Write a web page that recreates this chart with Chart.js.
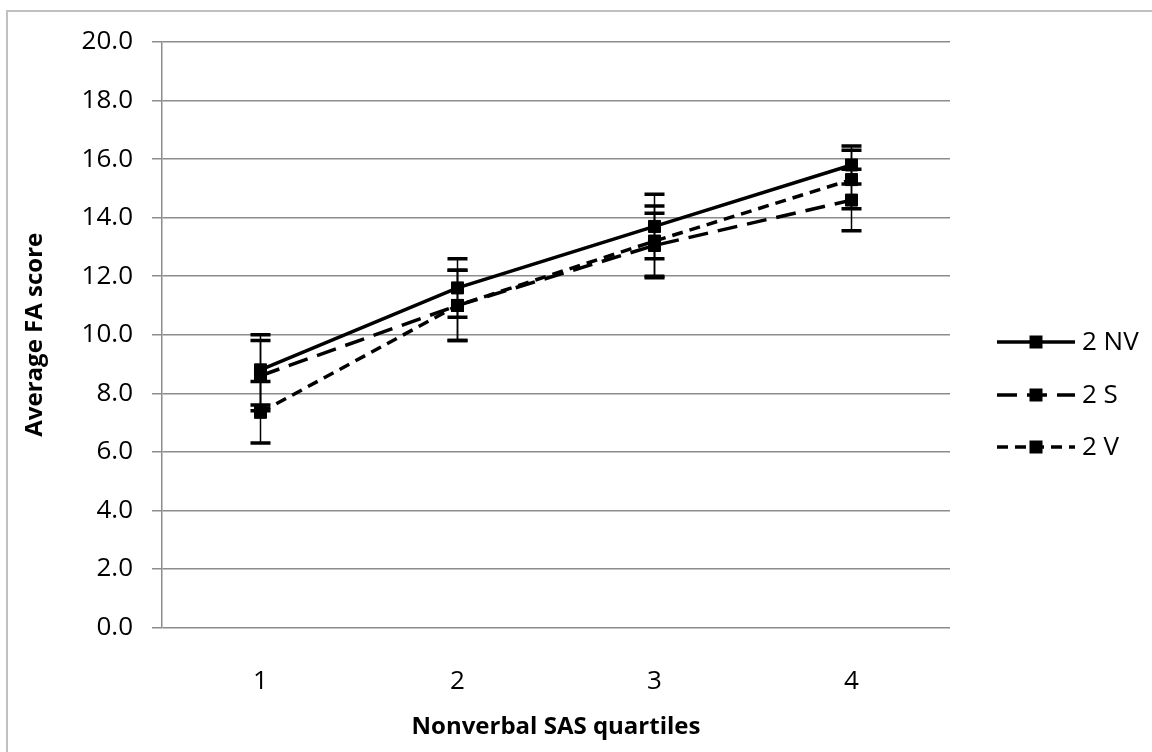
<!DOCTYPE html>
<html>
<head>
<meta charset="utf-8">
<script src="https://cdn.jsdelivr.net/npm/chart.js@4.4.1/dist/chart.umd.min.js"></script>
<style>
  html, body { margin: 0; padding: 0; background: #fff; }
  #wrap { width: 1152px; height: 752px; }
</style>
</head>
<body>
<div id="wrap"><canvas id="faChart" width="1152" height="752"></canvas></div>
<script>
// quartile categories and series
const quartiles = ['1', '2', '3', '4'];
const seriesNames = ['2 NV', '2 S', '2 V'];

// mean FA score per quartile, with symmetric error
const meanNV = [8.8, 11.6, 13.7, 15.8];
const errNV  = [1.2, 1.0, 1.1, 0.65];
const meanS  = [8.6, 11.0, 13.05, 14.6];
const errS   = [1.2, 1.2, 1.1, 1.05];
const meanV  = [7.35, 11.0, 13.2, 15.3];
const errV   = [1.05, 1.2, 1.2, 1.0];

const FONT = "'Open Sans', 'Noto Sans', sans-serif";
const GRID = '#8c8c8c';

function lineSet(label, data, err, dash) {
  return {
    label, data, errors: err,
    borderColor: '#000', backgroundColor: '#000',
    borderWidth: 3.5, borderDash: dash,
    pointStyle: 'rect', pointRadius: 8.5, pointHoverRadius: 8.5,
    pointBorderWidth: 1, pointBorderColor: '#000', pointBackgroundColor: '#000',
    tension: 0
  };
}

// outer frame (left and top edges)
const framePlugin = {
  id: 'frame',
  beforeDraw(chart) {
    const c = chart.ctx;
    c.save();
    c.fillStyle = '#fff';
    c.fillRect(0, 0, chart.width, chart.height);
    c.strokeStyle = '#c0c0c0';
    c.lineWidth = 2;
    c.beginPath();
    c.moveTo(7, chart.height);
    c.lineTo(7, 11);
    c.lineTo(chart.width, 11);
    c.stroke();
    c.restore();
  }
};

// vertical error bars with caps
const errorBarPlugin = {
  id: 'errorBars',
  afterDatasetsDraw(chart) {
    const c = chart.ctx;
    const xs = chart.scales.x, ys = chart.scales.y;
    c.save();
    c.strokeStyle = '#000';
    chart.data.datasets.forEach(ds => {
      ds.data.forEach((v, i) => {
        const x = xs.getPixelForValue(i);
        const hi = ys.getPixelForValue(v + ds.errors[i]);
        const lo = ys.getPixelForValue(v - ds.errors[i]);
        c.lineWidth = 1.5;
        c.beginPath();
        c.moveTo(x, hi); c.lineTo(x, lo);
        c.stroke();
        c.lineWidth = 3.5;
        c.beginPath();
        c.moveTo(x - 10, hi); c.lineTo(x + 10, hi);
        c.moveTo(x - 10, lo); c.lineTo(x + 10, lo);
        c.stroke();
      });
    });
    c.restore();
  }
};

// legend on the right: line sample with marker, then label
const sideLegend = {
  id: 'sideLegend',
  afterDraw(chart) {
    const c = chart.ctx;
    const x0 = chart.chartArea.right + 47;
    const x1 = x0 + 78;
    const rows = [342, 395, 447];
    c.save();
    chart.data.datasets.forEach((ds, k) => {
      const y = rows[k];
      c.strokeStyle = '#000';
      c.lineWidth = ds.borderWidth;
      c.setLineDash(ds.borderDash || []);
      c.beginPath();
      c.moveTo(x0, y); c.lineTo(x1, y);
      c.stroke();
      c.setLineDash([]);
      c.fillStyle = '#000';
      c.fillRect((x0 + x1) / 2 - 6.5, y - 6.5, 13, 13);
      c.font = '26px ' + FONT;
      c.textBaseline = 'middle';
      c.fillText(ds.label, x1 + 7, y + 1);
    });
    c.restore();
  }
};

new Chart(document.getElementById('faChart'), {
  type: 'line',
  data: {
    labels: quartiles,
    datasets: [
      lineSet(seriesNames[0], meanNV, errNV, []),
      lineSet(seriesNames[1], meanS, errS, [20, 10]),
      lineSet(seriesNames[2], meanV, errV, [11, 7])
    ]
  },
  options: {
    responsive: false,
    animation: false,
    layout: { padding: { left: 0, top: 42, right: 202, bottom: 0 } },
    plugins: { legend: { display: false }, tooltip: { enabled: false } },
    scales: {
      x: {
        offset: true,
        grid: { display: false },
        border: { display: false },
        ticks: { color: '#000', font: { family: FONT, size: 26 }, padding: 30 },
        title: {
          display: true, text: 'Nonverbal SAS quartiles', color: '#000',
          font: { family: FONT, size: 24, weight: 'bold' },
          padding: { top: 0, bottom: 10 }
        },
        afterFit: s => { s.height = 124.5; }
      },
      y: {
        min: 0, max: 20,
        ticks: {
          stepSize: 2, color: '#000', padding: 19,
          font: { family: FONT, size: 26 },
          callback: v => v.toFixed(1)
        },
        grid: { color: GRID, lineWidth: 1.5, tickLength: 10 },
        border: { display: true, color: GRID, width: 1.5 },
        title: {
          display: true, text: 'Average FA score', color: '#000',
          font: { family: FONT, size: 24, weight: 'bold' },
          padding: { top: 21, bottom: 0 }
        },
        afterFit: s => { s.width = 162; }
      }
    }
  },
  plugins: [framePlugin, errorBarPlugin, sideLegend]
});
</script>
</body>
</html>
